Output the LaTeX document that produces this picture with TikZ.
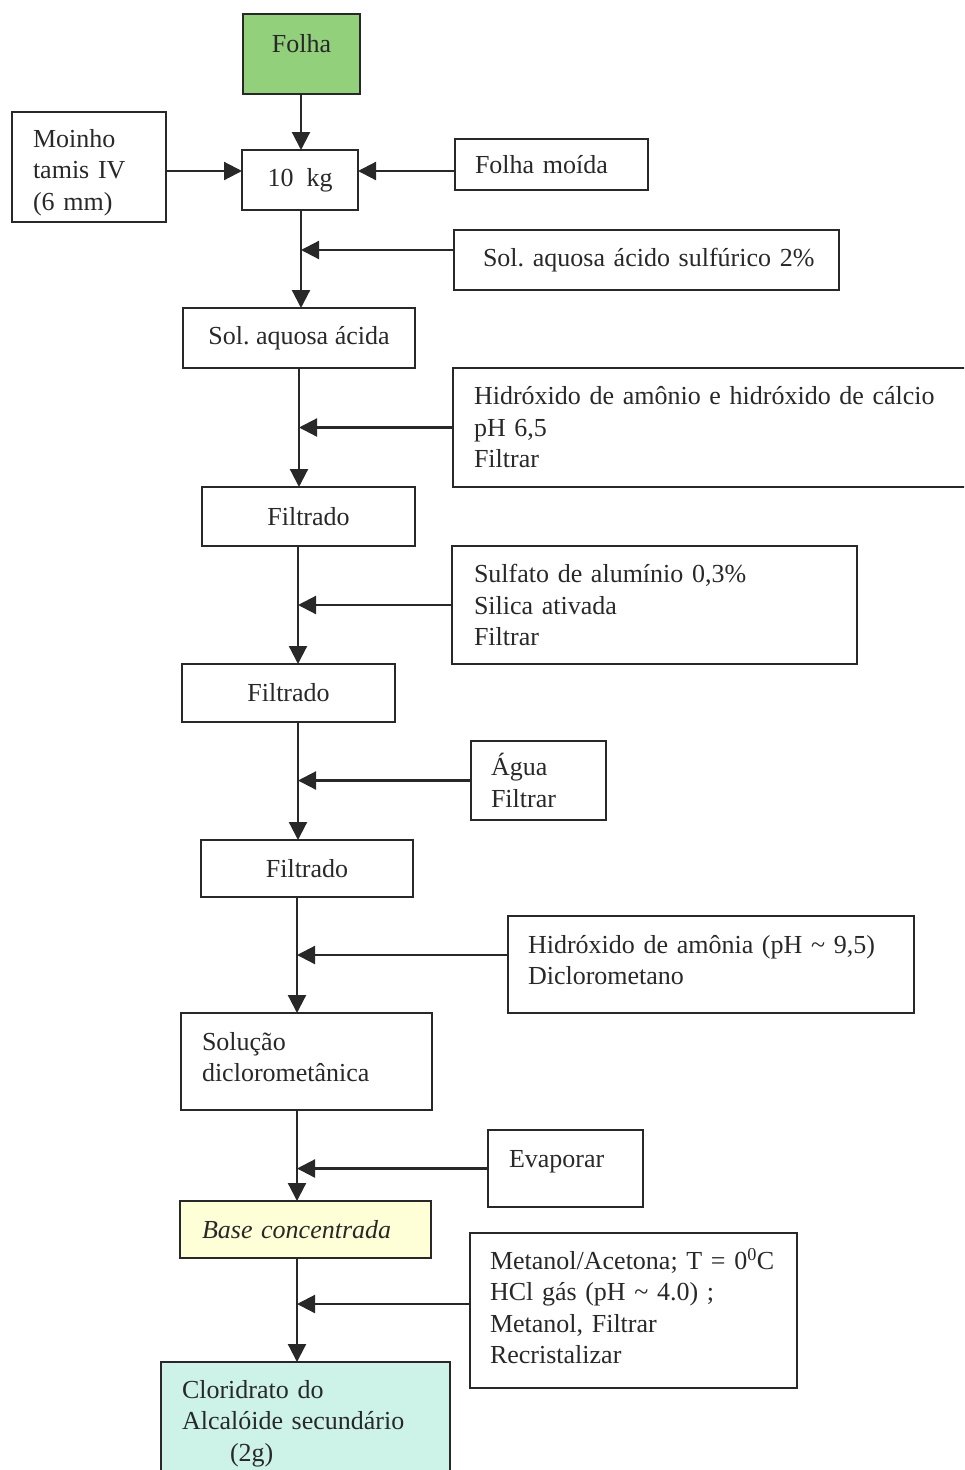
\documentclass[tikz,border=0pt]{standalone}
\usepackage{fontspec}
\setmainfont{Liberation Serif}
\usetikzlibrary{arrows.meta}
\definecolor{ink}{RGB}{40,40,40}
\definecolor{leafgreen}{RGB}{146,208,124}
\definecolor{paleyellow}{RGB}{255,255,215}
\definecolor{palecyan}{RGB}{205,243,232}
\begin{document}
\begin{tikzpicture}[x=1pt,y=-1pt,
  every node/.style={font=\fontsize{26}{31.5}\selectfont\frenchspacing, text=ink},
  box/.style={draw=ink, line width=1.8pt, outer sep=0pt, anchor=north west, inner ysep=4pt},
  cbox/.style={box, align=center},
  lbox/.style={box, align=left},
  arr/.style={draw=ink, line width=2.2pt, -{Triangle[length=18pt,width=18pt]}}]
\useasboundingbox (0,0) rectangle (964,1470);
\clip (0,0) rectangle (964,1470);

% boxes
\node[cbox, fill=leafgreen, minimum width=117, minimum height=80, text depth=22pt] (folha) at (243,14) {Folha};
\node[lbox, minimum width=154, minimum height=110, inner xsep=21pt, text width=112pt, text height=29pt] (moinho) at (12,112) {Moinho\\tamis IV\\(6 mm)};
\node[cbox, minimum width=116, minimum height=60] (tenkg) at (242,150) {10\ \ kg};
\node[lbox, minimum width=193, minimum height=51, inner xsep=20pt, text width=153pt] (moida) at (455,139) {Folha moída};
\node[lbox, minimum width=385, minimum height=60, inner xsep=29pt, text width=327pt] (acid) at (454,230) {\mbox{Sol. aquosa ácido sulfúrico 2\%}};
\node[cbox, minimum width=232, minimum height=60] (solacida) at (183,308) {Sol. aquosa ácida};
\node[lbox, minimum width=515, minimum height=119, inner xsep=21pt, text width=473pt] (hidrox) at (453,368) {Hidróxido de amônio e hidróxido de cálcio\\pH 6,5\\Filtrar};
\node[cbox, minimum width=213, minimum height=59] (filt1) at (202,487) {Filtrado};
\node[lbox, minimum width=405, minimum height=118, inner xsep=22pt, text width=361pt] (sulf) at (452,546) {Sulfato de alumínio 0,3\%\\Silica ativada\\Filtrar};
\node[cbox, minimum width=213, minimum height=58] (filt2) at (182,664) {Filtrado};
\node[lbox, minimum width=135, minimum height=79, inner xsep=20pt, text width=95pt] (agua) at (471,741) {Água\\Filtrar};
\node[cbox, minimum width=212, minimum height=57] (filt3) at (201,840) {Filtrado};
\node[lbox, minimum width=406, minimum height=97, inner xsep=20pt, text width=366pt, text depth=41pt] (amonia) at (508,916) {Hidróxido de amônia (pH \textasciitilde{} 9,5)\\Diclorometano};
\node[lbox, minimum width=251, minimum height=97, inner xsep=21pt, text width=209pt, text depth=41pt] (soluc) at (181,1013) {Solução\\diclorometânica};
\node[lbox, minimum width=155, minimum height=77, inner xsep=21pt, text width=113pt, text depth=20pt] (evap) at (488,1130) {Evaporar};
\node[lbox, fill=paleyellow, minimum width=251, minimum height=57, inner xsep=22pt, text width=207pt, font=\fontsize{26}{31.5}\selectfont\itshape] (base) at (180,1201) {Base concentrada};
\node[lbox, minimum width=327, minimum height=155, inner xsep=20pt, text width=287pt, text depth=104pt] (metanol) at (470,1233) {\mbox{Metanol/Acetona; T = 0\textsuperscript{0}C}\\HCl gás (pH \textasciitilde{} 4.0) ;\\Metanol, Filtrar\\Recristalizar};
\node[lbox, fill=palecyan, minimum width=289, minimum height=123, inner xsep=21pt, text width=247pt] (clor) at (161,1362) {Cloridrato do\\Alcalóide secundário\\\hspace*{48pt}(2g)};

% spine columns and arrow rows
\coordinate (x1) at (301,0);
\coordinate (x2) at (299,0);
\coordinate (x3) at (298,0);
\coordinate (x4) at (297,0);
\coordinate (y171) at (0,171);
\coordinate (y250) at (0,250);
\coordinate (y955) at (0,955);
\coordinate (y1304) at (0,1304);

% connectors
\draw[arr] (folha.south -| x1) -- (tenkg.north -| x1);
\draw[arr] (moinho.east |- y171) -- (tenkg.west |- y171);
\draw[arr] (moida.west |- y171) -- (tenkg.east |- y171);
\draw[arr] (tenkg.south -| x1) -- (solacida.north -| x1);
\draw[arr] (acid.west |- y250) -- (x1 |- y250);
\draw[arr] (solacida.south -| x2) -- (filt1.north -| x2);
\draw[arr] (hidrox.west) -- (hidrox.west -| x2);
\draw[arr] (filt1.south -| x3) -- (filt2.north -| x3);
\draw[arr] (sulf.west) -- (sulf.west -| x3);
\draw[arr] (filt2.south -| x3) -- (filt3.north -| x3);
\draw[arr] (agua.west) -- (agua.west -| x3);
\draw[arr] (filt3.south -| x4) -- (soluc.north -| x4);
\draw[arr] (amonia.west |- y955) -- (x4 |- y955);
\draw[arr] (soluc.south -| x4) -- (base.north -| x4);
\draw[arr] (evap.west) -- (evap.west -| x4);
\draw[arr] (base.south -| x4) -- (clor.north -| x4);
\draw[arr] (metanol.west |- y1304) -- (x4 |- y1304);
\end{tikzpicture}
\end{document}
